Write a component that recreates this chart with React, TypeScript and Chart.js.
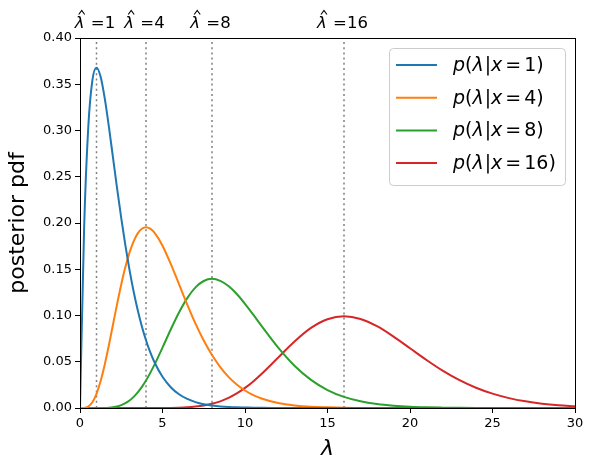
import React, { useEffect, useRef } from "react";
import { Chart, registerables } from "chart.js";

Chart.register(...registerables);

// λ grid used for every curve
const lambdas = [0, 0.25, 0.5, 0.75, 1, 1.25, 1.5, 1.75, 2, 2.25, 2.5, 2.75, 3, 3.25, 3.5, 3.75, 4, 4.25, 4.5, 5, 5.5, 6, 6.5, 7, 7.5, 8, 8.5, 9, 9.5, 10, 10.5, 11, 12, 13, 14, 15, 16, 17, 18, 19, 20, 21, 22, 23, 24, 25, 26, 27, 28, 29, 30];

const postX1 = [0, 0.1947, 0.3033, 0.3543, 0.3679, 0.3581, 0.3347, 0.3041, 0.2707, 0.2371, 0.2052, 0.1758, 0.1494, 0.126, 0.1057, 0.0882, 0.0733, 0.0606, 0.05, 0.0337, 0.0225, 0.0149, 0.0098, 0.0064, 0.0041, 0.0027, 0.0017, 0.0011, 0.0007, 0.0005, 0.0003, 0.0002, 0.0001, 0, 0, 0, 0, 0, 0, 0, 0, 0, 0, 0, 0, 0, 0, 0, 0, 0, 0];

const postX4 = [0, 0.0001, 0.0016, 0.0062, 0.0153, 0.0291, 0.0471, 0.0679, 0.0902, 0.1126, 0.1336, 0.1523, 0.168, 0.1802, 0.1888, 0.1938, 0.1954, 0.1939, 0.1898, 0.1755, 0.1558, 0.1339, 0.1118, 0.0912, 0.0729, 0.0573, 0.0443, 0.0337, 0.0254, 0.0189, 0.0139, 0.0102, 0.0053, 0.0027, 0.0013, 0.0007, 0.0003, 0.0001, 0.0001, 0, 0, 0, 0, 0, 0, 0, 0, 0, 0, 0, 0];

const postX8 = [0, 0, 0, 0, 0, 0, 0.0001, 0.0004, 0.0009, 0.0017, 0.0031, 0.0052, 0.0081, 0.012, 0.0169, 0.0228, 0.0298, 0.0377, 0.0463, 0.0653, 0.0849, 0.1033, 0.1188, 0.1304, 0.1373, 0.1396, 0.1375, 0.1318, 0.1232, 0.1126, 0.1009, 0.0888, 0.0655, 0.0457, 0.0304, 0.0194, 0.012, 0.0072, 0.0042, 0.0024, 0.0013, 0.0007, 0.0004, 0.0002, 0.0001, 0.0001, 0, 0, 0, 0, 0];

const postX16 = [0, 0, 0, 0, 0, 0, 0, 0, 0, 0, 0, 0, 0, 0, 0, 0, 0, 0, 0, 0, 0.0001, 0.0003, 0.0007, 0.0015, 0.0027, 0.0045, 0.0072, 0.0109, 0.0157, 0.0217, 0.0287, 0.0367, 0.0543, 0.0719, 0.0866, 0.096, 0.0992, 0.0963, 0.0884, 0.0772, 0.0646, 0.0519, 0.0401, 0.0301, 0.0219, 0.0155, 0.0107, 0.0072, 0.0047, 0.003, 0.0019];

const observed = [1, 4, 8, 16];
const seriesLabels = ["1", "4", "8", "16"];
const seriesColors = ["#1f77b4", "#ff7f0e", "#2ca02c", "#d62728"];
const xTickStep = 5;
const yTickStep = 0.05;

const FONT = "'DejaVu Sans', sans-serif";

const overlayPlugin = {
  id: "overlay",
  afterDraw(chart: any) {
    const { ctx, chartArea, scales } = chart;
    ctx.save();
    // frame
    ctx.strokeStyle = "#000";
    ctx.lineWidth = 1;
    ctx.strokeRect(chartArea.left + 0.5, chartArea.top + 0.5, chartArea.right - chartArea.left, chartArea.bottom - chartArea.top);

    // top labels
    ctx.fillStyle = "#000";
    ctx.textBaseline = "alphabetic";
    observed.forEach((v) => {
      const px = scales.x.getPixelForValue(v);
      const f1 = `italic 16.5px ${FONT}`;
      const f2 = `16.5px ${FONT}`;
      ctx.font = f1;
      const a = "\u03bb";
      const wa = ctx.measureText(a).width;
      ctx.font = f2;
      const b = " =" + v;
      const wb = ctx.measureText(b).width;
      const x0 = px - (wa + wb) / 2 - 2;
      ctx.font = f1;
      ctx.textAlign = "left";
      ctx.fillText(a, x0, 28);
      // hat
      const hc = x0 + wa / 2 + 2;
      ctx.strokeStyle = "#000";
      ctx.lineWidth = 1.1;
      ctx.beginPath();
      ctx.moveTo(hc - 3, 14.5);
      ctx.lineTo(hc, 10.5);
      ctx.lineTo(hc + 3, 14.5);
      ctx.stroke();
      ctx.font = f2;
      ctx.fillText(b, x0 + wa + 1, 28);
    });

    // axis titles
    ctx.fillStyle = "#000";
    ctx.font = `italic 22px ${FONT}`;
    ctx.textAlign = "center";
    ctx.fillText("\u03bb", (chartArea.left + chartArea.right) / 2, 455);
    ctx.save();
    ctx.translate(24, (chartArea.top + chartArea.bottom) / 2);
    ctx.rotate(-Math.PI / 2);
    ctx.font = `22px ${FONT}`;
    ctx.fillText("posterior pdf", 0, 0);
    ctx.restore();

    // legend
    const bx = 389.5, by = 48.5, bw = 176, bh = 137;
    ctx.beginPath();
    (ctx as any).roundRect(bx, by, bw, bh, 4);
    ctx.fillStyle = "rgba(255,255,255,0.8)";
    ctx.fill();
    ctx.strokeStyle = "#cccccc";
    ctx.lineWidth = 1;
    ctx.stroke();
    seriesLabels.forEach((lab, i) => {
      const y = 65 + i * 32.7;
      ctx.strokeStyle = seriesColors[i];
      ctx.lineWidth = 2;
      ctx.beginPath();
      ctx.moveTo(396, y);
      ctx.lineTo(437, y);
      ctx.stroke();
      ctx.fillStyle = "#000";
      ctx.textAlign = "left";
      ctx.textBaseline = "middle";
      const segs: [string, boolean, number][] = [
        ["p", true, 0],
        ["(", false, 0],
        ["\u03bb", true, 0],
        ["|", false, 1],
        ["x", true, 0],
        ["=", false, 3],
        [lab + ")", false, 3],
      ];
      let x = 453;
      segs.forEach(([t, it, pre]) => {
        x += pre;
        ctx.font = `${it ? "italic " : ""}19px ${FONT}`;
        ctx.fillText(t, x, y + 1);
        x += ctx.measureText(t).width;
      });
    });
    ctx.restore();
  },
};

export default function App() {
  const ref = useRef<HTMLCanvasElement | null>(null);
  useEffect(() => {
    if (!ref.current) return;
    const curveSets = [postX1, postX4, postX8, postX16].map((arr, i) => ({
      label: "p(λ|x=" + seriesLabels[i] + ")",
      data: lambdas.map((x, j) => ({ x, y: arr[j] })),
      borderColor: seriesColors[i],
      backgroundColor: seriesColors[i],
      borderWidth: 2,
      pointRadius: 0,
      cubicInterpolationMode: "monotone" as const,
      fill: false,
    }));
    const vlineSets = observed.map((v) => ({
      label: "vline" + v,
      data: [
        { x: v, y: 0 },
        { x: v, y: 0.4 },
      ],
      borderColor: "#808080",
      borderWidth: 1.5,
      borderDash: [2, 3.2],
      pointRadius: 0,
      fill: false,
    }));
    const chart = new Chart(ref.current, {
      type: "line",
      data: { datasets: [...curveSets, ...vlineSets] as any },
      options: {
        animation: false,
        responsive: false,
        devicePixelRatio: 1,
        parsing: false as any,
        layout: { padding: { top: 38, right: 19, left: 0, bottom: 0 } },
        plugins: { legend: { display: false }, tooltip: { enabled: false } },
        scales: {
          x: {
            type: "linear",
            min: 0,
            max: 30,
            ticks: { stepSize: xTickStep, color: "#000", font: { family: FONT, size: 13 }, padding: 3, maxRotation: 0 },
            grid: { drawOnChartArea: false, drawTicks: true, tickLength: 5, tickColor: "#000", color: "#000" },
            border: { display: true, color: "#000", width: 1 },
            afterFit: (s: any) => {
              s.height = 62;
            },
          },
          y: {
            type: "linear",
            min: 0,
            max: 0.4,
            ticks: {
              stepSize: yTickStep,
              color: "#000",
              font: { family: FONT, size: 13 },
              padding: 3,
              callback: (v: any) => Number(v).toFixed(2),
            },
            grid: { drawOnChartArea: false, drawTicks: true, tickLength: 5, tickColor: "#000", color: "#000" },
            border: { display: true, color: "#000", width: 1 },
            afterFit: (s: any) => {
              s.width = 80;
            },
          },
        },
      },
      plugins: [overlayPlugin],
    });
    return () => chart.destroy();
  }, []);
  return (
    <div style={{ position: "absolute", left: 0, top: 0, width: 594, height: 470, background: "#fff" }}>
      <canvas ref={ref} width={594} height={470} style={{ display: "block" }} />
    </div>
  );
}
